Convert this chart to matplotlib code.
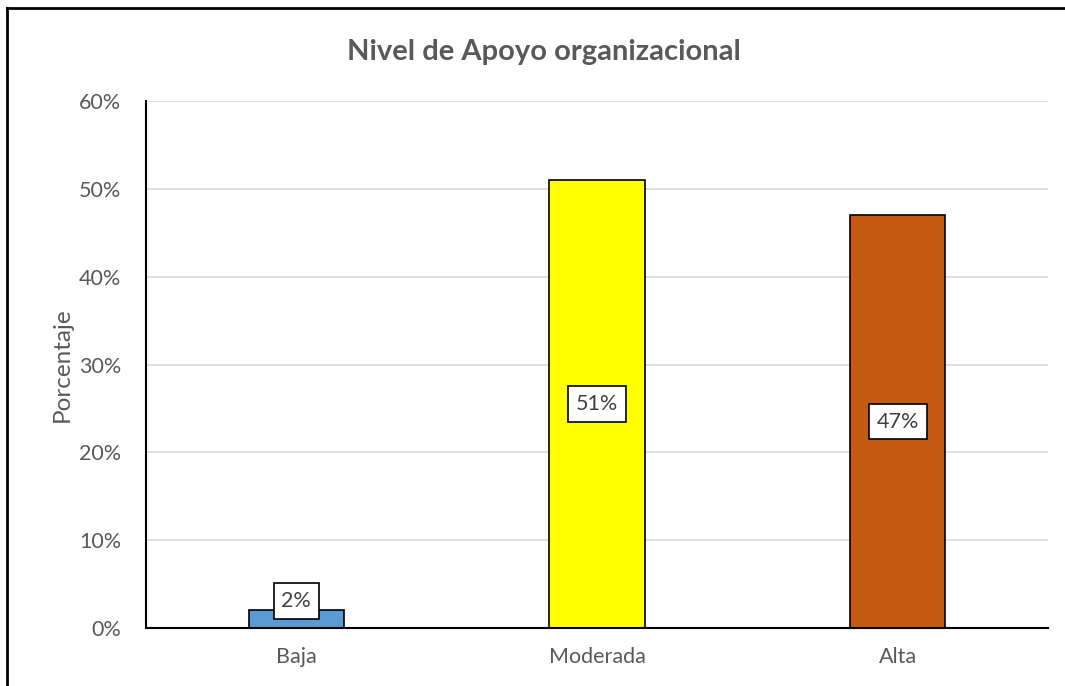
import matplotlib
matplotlib.use("Agg")
import matplotlib.pyplot as plt
from matplotlib.ticker import FuncFormatter, MultipleLocator

categories = ["Baja", "Moderada", "Alta"]
values = [2, 51, 47]
colors = ["#5B9BD5", "#FFFF00", "#C55A11"]
title = "Nivel de Apoyo organizacional"
ylabel = "Porcentaje"

plt.rcParams['font.family'] = ['Lato', 'DejaVu Sans']

fig = plt.figure(figsize=(10.65, 6.86), dpi=100)
ax = fig.add_axes([146/1065, 1-628/686, (1048-146)/1065, (628-101)/686])

x = list(range(len(categories)))
ax.bar(x, values, width=0.316, color=colors, edgecolor="black", linewidth=1.2, zorder=3)
ax.set_xlim(-0.5, len(categories)-0.5)
ax.set_ylim(0, 60)
ax.yaxis.set_major_locator(MultipleLocator(10))
ax.yaxis.set_major_formatter(FuncFormatter(lambda v, p: f"{int(v)}%"))
ax.grid(axis="y", color="#D9D9D9", linewidth=1.2, zorder=0)
ax.set_xticks(x)
ax.set_xticklabels(categories)
ax.tick_params(axis="both", length=0, labelsize=15.5, colors="#595959")
ax.tick_params(axis="x", pad=14)
ax.tick_params(axis="y", pad=18)
for s in ["top", "right"]:
    ax.spines[s].set_visible(False)
ax.spines["left"].set_color("black")
ax.spines["left"].set_linewidth(1.5)
ax.spines["bottom"].set_color("black")
ax.spines["bottom"].set_linewidth(1.5)
ax.spines["left"].set_zorder(4)
ax.spines["bottom"].set_zorder(4)
ax.set_ylabel(ylabel, fontsize=17.5, color="#595959", labelpad=4)

for xi, v in zip(x, values):
    ypos = max(v / 2, 3.1)
    ax.text(xi, ypos, f"{v}%", ha="center", va="center", fontsize=15.5, color="#404040", zorder=5,
            bbox=dict(boxstyle="square,pad=0.36", facecolor="white", edgecolor="black", linewidth=1.2))

fig.text(544/1065, 1-52/686, title, ha="center", va="center", fontsize=21, fontweight="bold", color="#595959")

# outer frame (top and left lines)
fig.add_artist(plt.Line2D([7/1065, 1], [1-8/686, 1-8/686], color="black", linewidth=2, transform=fig.transFigure))
fig.add_artist(plt.Line2D([7/1065, 7/1065], [0, 1-8/686], color="black", linewidth=2, transform=fig.transFigure))

fig.savefig("out.png", dpi=100)
